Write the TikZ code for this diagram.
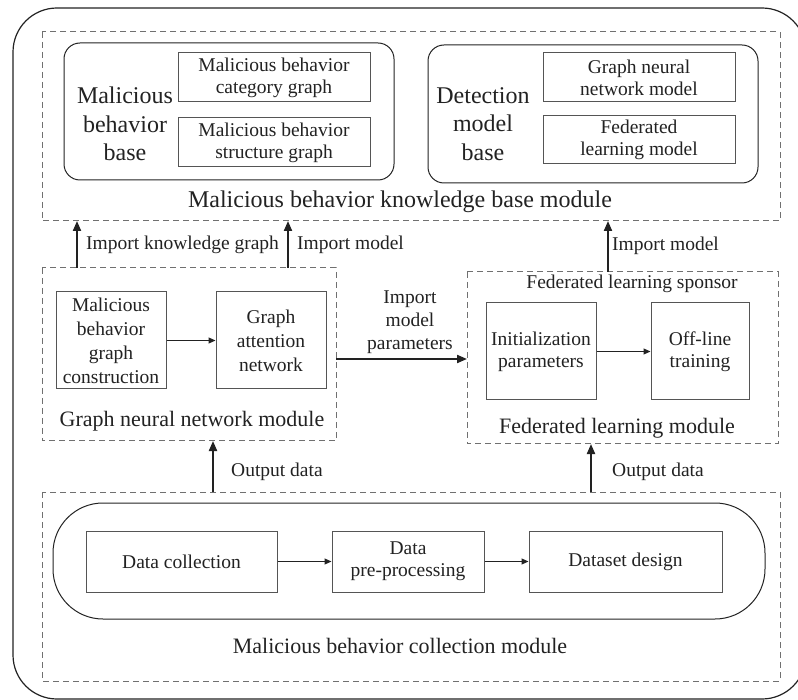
\documentclass[tikz,border=0pt]{standalone}
\usepackage{fontspec}
\setmainfont{Liberation Serif}
\usetikzlibrary{arrows.meta}
\definecolor{txt}{HTML}{222222}
\definecolor{boxc}{HTML}{555555}
\definecolor{dashc}{HTML}{707070}
\begin{document}
\begin{tikzpicture}[x=1pt,y=-1pt,
  every node/.style={text=txt},
  modbox/.style={draw=dashc,line width=1pt,dash pattern=on 6pt off 4pt},
  basebox/.style={draw=txt,line width=1pt,rounded corners=16pt},
  inbox/.style={draw=boxc,line width=1pt,fill=white},
  smalltxt/.style={font=\fontsize{19.5}{23}\selectfont,align=center},
  bigtxt/.style={font=\fontsize{24}{28.5}\selectfont,align=center},
  modtxt/.style={font=\fontsize{22}{26}\selectfont},
  bigarrow/.style={draw=txt,line width=2pt,-{Triangle[length=10pt,width=8pt]}},
  smallarrow/.style={draw=txt,line width=1pt,-{Triangle[length=7pt,width=6pt]}}]
\useasboundingbox (0,0) rectangle (798,700);
% outer
\draw[draw=txt,line width=1.2pt,rounded corners=44pt] (13,8) rectangle (806,699);

% knowledge base module
\draw[modbox] (42,32) rectangle (780,221);
\coordinate (kbl) at (77,221);
\coordinate (kbm) at (288,221);
\coordinate (kbr) at (608,221);
\draw[basebox] (64,43) rectangle (394,180);
\node[inbox,smalltxt,minimum width=192pt,minimum height=49pt,inner sep=0pt] (catg) at (274,77.5) {Malicious behavior\\[-1pt]category graph};
\node[inbox,smalltxt,minimum width=192pt,minimum height=49pt,inner sep=0pt] (strg) at (274,142.5) {Malicious behavior\\[-1pt]structure graph};
\node[bigtxt] (mbb) at (125,124) {Malicious\\behavior\\base};
\draw[basebox] (428,45) rectangle (758,183);
\node[inbox,smalltxt,minimum width=192pt,minimum height=49pt,inner sep=0pt] (gnnm) at (639,77.5) {Graph neural\\[-1pt]network model};
\node[inbox,smalltxt,minimum width=192pt,minimum height=48pt,inner sep=0pt] (flm) at (639,140) {Federated\\[-1pt]learning model};
\node[bigtxt] (dmb) at (483,124) {Detection\\model\\base};
\node[font=\fontsize{24}{28}\selectfont] (kbt) at (400,202) {Malicious behavior knowledge base module};

% GNN module
\draw[modbox] (42,268) rectangle (336,441);
\coordinate (gnt1) at (77,268);
\coordinate (gnt2) at (288,268);
\coordinate (gnb) at (213,441);
\coordinate (gnr) at (336,359);
\node[inbox,smalltxt,minimum width=110pt,minimum height=97pt,inner sep=0pt,font=\fontsize{19.5}{24}\selectfont] (mbgc) at (111,340.5) {Malicious\\behavior\\graph\\construction};
\node[inbox,smalltxt,minimum width=110pt,minimum height=97pt,inner sep=0pt,font=\fontsize{19.5}{24}\selectfont] (gat) at (271,340.5) {Graph\\attention\\network};
\draw[smallarrow] (mbgc.east) -- (gat.west);
\node[modtxt] (gnt) at (192,421) {Graph neural network module};

% FL module
\draw[modbox] (467,272) rectangle (778,444);
\coordinate (flt) at (608,272);
\coordinate (flb) at (591,444);
\coordinate (fll) at (467,359);
\node[smalltxt] (fls) at (632,284) {Federated learning sponsor};
\node[inbox,smalltxt,minimum width=110pt,minimum height=97pt,inner sep=0pt] (init) at (541,351.5) {Initialization\\[-1pt]parameters};
\node[inbox,smalltxt,minimum width=98pt,minimum height=97pt,inner sep=0pt] (offl) at (700,351.5) {Off-line\\[-1pt]training};
\draw[smallarrow] (init.east) -- (offl.west);
\node[modtxt] (flt2) at (617,428) {Federated learning module};

% collection module
\draw[modbox] (42,492) rectangle (780,681);
\coordinate (ct1) at (213,492);
\coordinate (ct2) at (591,492);
\draw[draw=txt,line width=1pt,rounded corners=50pt] (53,503) rectangle (765,619);
\node[inbox,smalltxt,minimum width=191pt,minimum height=61pt,inner sep=0pt] (dc) at (181.5,561.5) {Data collection};
\node[inbox,smalltxt,minimum width=152pt,minimum height=61pt,inner sep=0pt] (dpp) at (408,561.5) {Data\\[-1pt]pre-processing};
\node[inbox,smalltxt,minimum width=193pt,minimum height=61pt,inner sep=0pt] (dsd) at (625.5,561.5) {Dataset design};
\draw[smallarrow] (dc.east) -- (dpp.west);
\draw[smallarrow] (dpp.east) -- (dsd.west);
\node[modtxt] (cmt) at (400,646) {Malicious behavior collection module};

% connectors between modules
\draw[bigarrow] (gnt1) -- (kbl);
\draw[bigarrow] (gnt2) -- (kbm);
\draw[bigarrow] (flt) -- (kbr);
\draw[bigarrow] (ct1) -- (gnb);
\draw[bigarrow] (ct2) -- (flb);
\draw[bigarrow] (gnr) -- (fll);
\node[smalltxt,anchor=west,inner sep=0pt] (l1) at (86,245) {Import knowledge graph};
\node[smalltxt,anchor=west,inner sep=0pt] (l2) at (297,245) {Import model};
\node[smalltxt,anchor=west,inner sep=0pt] (l3) at (612,246) {Import model};
\node[smalltxt,anchor=west,inner sep=0pt] (l4) at (231,472) {Output data};
\node[smalltxt,anchor=west,inner sep=0pt] (l5) at (612,472) {Output data};
\node[smalltxt] (l6) at (410,322) {Import\\model\\parameters};
\end{tikzpicture}
\end{document}
